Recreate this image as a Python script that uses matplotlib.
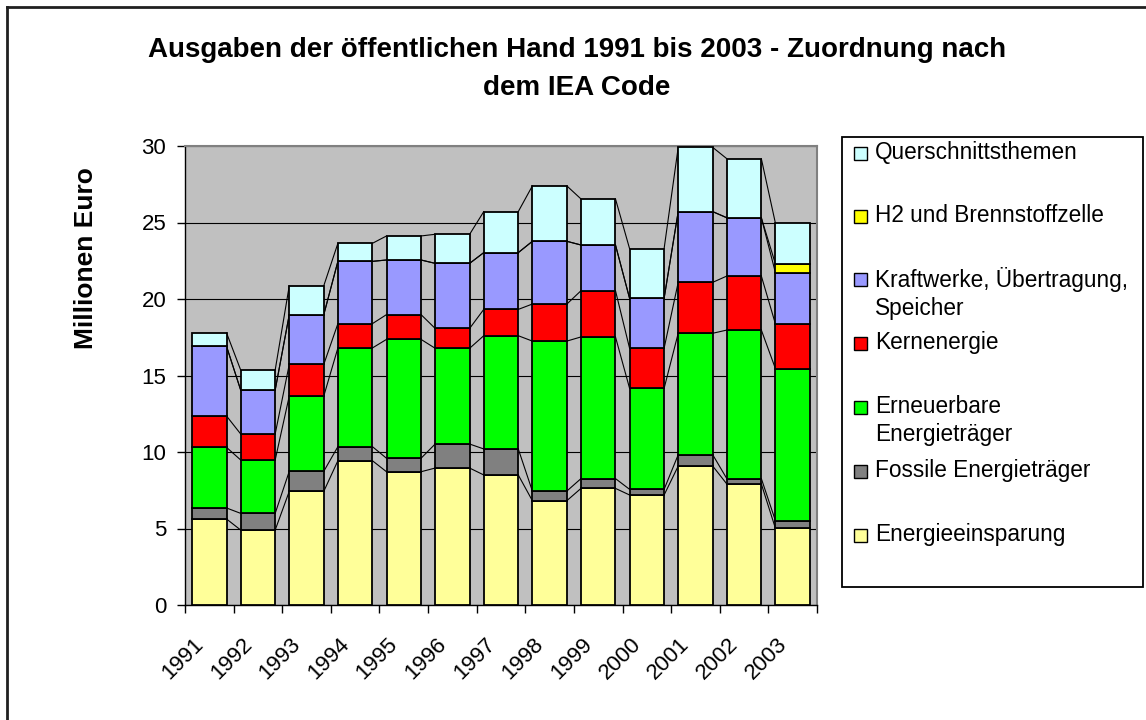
import numpy as np
import matplotlib
matplotlib.use("Agg")
import matplotlib.pyplot as plt
from matplotlib import transforms
from matplotlib.patches import Rectangle
from matplotlib.lines import Line2D

plt.rcParams['font.family'] = ['Liberation Sans', 'DejaVu Sans']

# Data (Millionen Euro)
years = ['1991', '1992', '1993', '1994', '1995', '1996', '1997',
         '1998', '1999', '2000', '2001', '2002', '2003']

energieeinsparung = [5.62, 4.90, 7.43, 9.43, 8.71, 8.95, 8.50, 6.82, 7.62, 7.19, 9.08, 7.91, 5.01]
fossile = [0.72, 1.09, 1.31, 0.92, 0.88, 1.57, 1.70, 0.63, 0.64, 0.37, 0.74, 0.35, 0.50]
erneuerbare = [3.96, 3.49, 4.92, 6.45, 7.77, 6.26, 7.40, 9.80, 9.26, 6.60, 7.94, 9.71, 9.94]
kernenergie = [2.05, 1.70, 2.07, 1.59, 1.62, 1.30, 1.72, 2.42, 3.02, 2.62, 3.33, 3.53, 2.92]
kraftwerke = [4.55, 2.87, 3.25, 4.07, 3.57, 4.25, 3.71, 4.10, 2.99, 3.26, 4.62, 3.81, 3.35]
h2 = [0, 0, 0, 0, 0, 0, 0, 0, 0, 0, 0, 0, 0.57]
querschnitt = [0.88, 1.31, 1.89, 1.18, 1.57, 1.90, 2.68, 3.62, 3.01, 3.25, 4.20, 3.86, 2.66]

series = [
    ('Energieeinsparung', energieeinsparung, '#FFFF99'),
    ('Fossile Energieträger', fossile, '#808080'),
    ('Erneuerbare\nEnergieträger', erneuerbare, '#00FF00'),
    ('Kernenergie', kernenergie, '#FF0000'),
    ('Kraftwerke, Übertragung,\nSpeicher', kraftwerke, '#9999FF'),
    ('H2 und Brennstoffzelle', h2, '#FFFF00'),
    ('Querschnittsthemen', querschnitt, '#CCFFFF'),
]

W, H = 1146, 720
fig = plt.figure(figsize=(W / 100, H / 100), dpi=100)
ax = fig.add_axes([185 / W, 1 - 605 / H, 632 / W, 459 / H])
ax.set_facecolor('#C0C0C0')

x = np.arange(len(years))
bw = 0.71
bottom = np.zeros(len(years))
for label, vals, col in series:
    vals = np.array(vals, dtype=float)
    mask = vals > 0
    ax.bar(x[mask], vals[mask], bw, bottom=bottom[mask], color=col,
           edgecolor='black', linewidth=1.3, zorder=3)
    top = bottom + vals
    # series lines between neighbouring bars
    for i in range(len(years) - 1):
        ax.plot([x[i] + bw / 2, x[i + 1] - bw / 2], [top[i], top[i + 1]],
                color='black', lw=0.8, zorder=2)
    bottom = top

ax.set_xlim(-0.5, len(years) - 0.5)
ax.set_ylim(0, 30)
ax.set_yticks(range(0, 31, 5))
ax.yaxis.grid(True, color='black', lw=0.8)
ax.set_axisbelow(True)

# tick marks on category boundaries, labels at centres
ax.set_xticks(np.arange(-0.5, len(years), 1.0))
ax.set_xticklabels([])
ax.set_xticks(x, minor=True)
ax.set_xticklabels(years, minor=True, rotation=45, ha='right', va='center',
                   rotation_mode='anchor', fontsize=16)
ax.tick_params(axis='x', which='minor', length=0, pad=26)
ax.tick_params(axis='x', which='major', length=5.5, width=1, direction='out')
ax.tick_params(axis='y', length=5.5, width=1, direction='out', pad=8, labelsize=16)
shift = transforms.ScaledTranslation(-9 / 100, 0, fig.dpi_scale_trans)
for lab in ax.get_xticklabels(minor=True):
    lab.set_transform(lab.get_transform() + shift)

for s in ['top', 'right']:
    ax.spines[s].set_color('#808080')
    ax.spines[s].set_linewidth(1.5)
for s in ['left', 'bottom']:
    ax.spines[s].set_color('black')
    ax.spines[s].set_linewidth(1)

# titles
fig.text(577 / W, 1 - 50 / H, 'Ausgaben der öffentlichen Hand 1991 bis 2003 - Zuordnung nach',
         ha='center', va='center', fontsize=20, fontweight='bold')
fig.text(577 / W, 1 - 88 / H, 'dem IEA Code',
         ha='center', va='center', fontsize=20, fontweight='bold')
fig.text(86 / W, 1 - 258 / H, 'Millionen Euro', rotation=90, ha='center', va='center',
         fontsize=19, fontweight='bold')

# legend box (drawn by hand to keep Excel's fixed entry spacing)
fig.patches.append(Rectangle((842 / W, 1 - 587 / H), (1143 - 842) / W, 450 / H,
                             transform=fig.transFigure, facecolor='white',
                             edgecolor='black', lw=1.3, zorder=1))
entry_y = [535, 471, 407, 343, 279, 216, 153]
for (label, vals, col), yy in zip(series, entry_y):
    fig.patches.append(Rectangle((854 / W, 1 - (yy + 7) / H), 13 / W, 13 / H,
                                 transform=fig.transFigure, facecolor=col,
                                 edgecolor='black', lw=1, zorder=2))
    fig.text(875 / W, 1 - (yy - 12) / H, label, ha='left', va='top', fontsize=16.3,
             linespacing=1.25, zorder=3)

# outer chart border
fig.add_artist(Line2D([7 / W, 7 / W], [0, 1 - 7 / H], transform=fig.transFigure,
                      color='#202020', lw=2))
fig.add_artist(Line2D([7 / W, 1], [1 - 7 / H, 1 - 7 / H], transform=fig.transFigure,
                      color='#202020', lw=2))

fig.savefig('out.png', dpi=100)
